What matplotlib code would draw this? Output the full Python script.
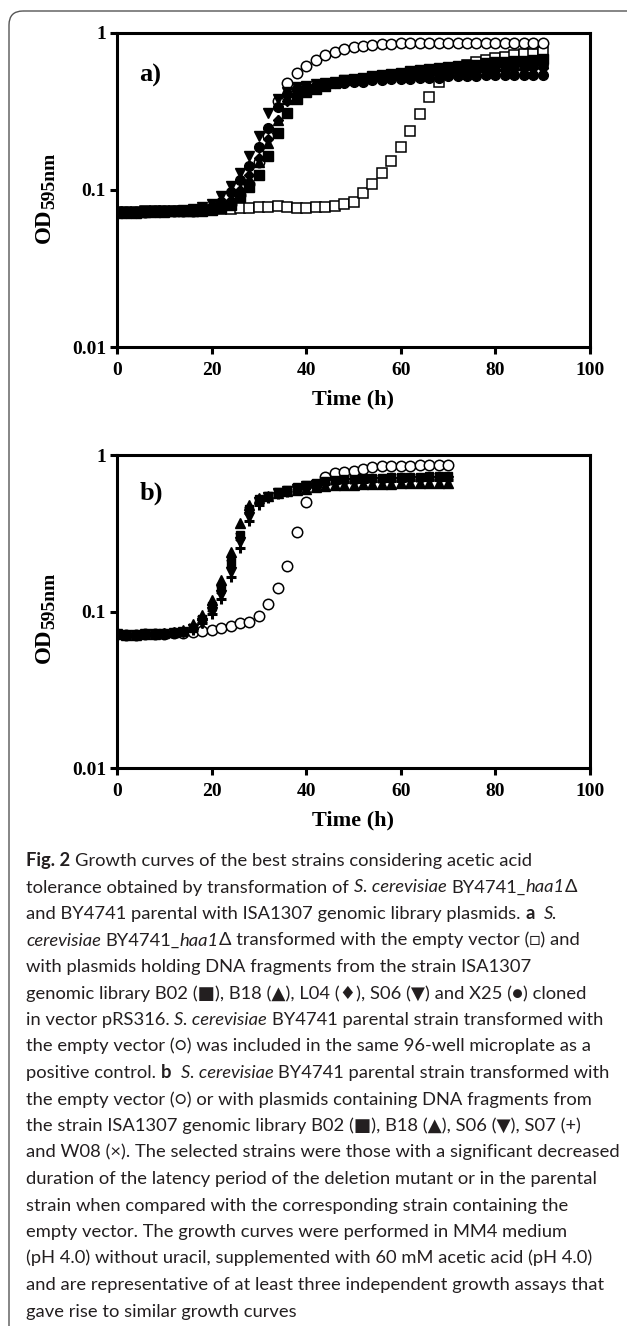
import matplotlib
matplotlib.use('Agg')
import matplotlib.pyplot as plt
from matplotlib.patches import FancyBboxPatch
from matplotlib.ticker import FixedLocator, FixedFormatter, NullLocator

plt.rcParams['font.family'] = 'Liberation Serif'

# ---- data: panel a (BY4741_haa1 deletion background), time in hours ----
hours_a = list(range(0, 92, 2))
a_empty_haa1 = [0.072, 0.072, 0.072, 0.073, 0.073, 0.073, 0.074, 0.074, 0.074, 0.075,
                0.075, 0.076, 0.076, 0.077, 0.077, 0.078, 0.078, 0.079, 0.078, 0.077,
                0.077, 0.078, 0.078, 0.079, 0.082, 0.084, 0.095, 0.109, 0.128, 0.153,
                0.188, 0.237, 0.305, 0.39, 0.49, 0.56, 0.60, 0.63, 0.65, 0.67,
                0.69, 0.70, 0.72, 0.73, 0.74, 0.76]
a_empty_parental = [0.072, 0.072, 0.072, 0.072, 0.073, 0.073, 0.073, 0.074, 0.074, 0.075,
                    0.076, 0.078, 0.081, 0.093, 0.109, 0.15, 0.22, 0.37, 0.48, 0.56,
                    0.62, 0.67, 0.72, 0.76, 0.79, 0.81, 0.83, 0.84, 0.85, 0.855,
                    0.86, 0.86, 0.86, 0.865, 0.865, 0.865, 0.865, 0.865, 0.865, 0.865,
                    0.865, 0.865, 0.865, 0.865, 0.86, 0.86]
a_b02 = [0.071, 0.071, 0.071, 0.072, 0.072, 0.072, 0.073, 0.073, 0.074, 0.074,
         0.075, 0.077, 0.080, 0.090, 0.105, 0.125, 0.165, 0.23, 0.31, 0.38,
         0.42, 0.44, 0.46, 0.48, 0.50, 0.51, 0.52, 0.53, 0.54, 0.55,
         0.56, 0.57, 0.58, 0.59, 0.60, 0.61, 0.62, 0.63, 0.63, 0.64,
         0.65, 0.65, 0.66, 0.66, 0.67, 0.68]
a_b18 = [0.072, 0.072, 0.072, 0.072, 0.073, 0.073, 0.073, 0.074, 0.074, 0.075,
         0.076, 0.079, 0.085, 0.098, 0.118, 0.15, 0.20, 0.28, 0.38, 0.44,
         0.46, 0.47, 0.48, 0.49, 0.50, 0.51, 0.52, 0.53, 0.54, 0.55,
         0.55, 0.56, 0.57, 0.58, 0.58, 0.59, 0.60, 0.60, 0.61, 0.61,
         0.62, 0.62, 0.63, 0.63, 0.64, 0.64]
a_l04 = [0.071, 0.071, 0.072, 0.072, 0.072, 0.073, 0.073, 0.074, 0.074, 0.075,
         0.076, 0.079, 0.086, 0.100, 0.125, 0.16, 0.21, 0.28, 0.37, 0.43,
         0.45, 0.46, 0.47, 0.48, 0.49, 0.50, 0.51, 0.52, 0.52, 0.53,
         0.54, 0.54, 0.55, 0.55, 0.56, 0.56, 0.57, 0.57, 0.58, 0.58,
         0.58, 0.59, 0.59, 0.59, 0.60, 0.60]
a_s06 = [0.072, 0.072, 0.072, 0.073, 0.073, 0.073, 0.074, 0.075, 0.076, 0.078,
         0.082, 0.092, 0.106, 0.128, 0.165, 0.22, 0.31, 0.38, 0.42, 0.45,
         0.46, 0.47, 0.48, 0.49, 0.50, 0.50, 0.51, 0.52, 0.52, 0.53,
         0.53, 0.54, 0.54, 0.55, 0.55, 0.55, 0.56, 0.56, 0.56, 0.57,
         0.57, 0.57, 0.57, 0.58, 0.58, 0.58]
a_x25 = [0.071, 0.071, 0.071, 0.072, 0.072, 0.073, 0.073, 0.074, 0.075, 0.076,
         0.078, 0.084, 0.097, 0.116, 0.142, 0.188, 0.25, 0.34, 0.41, 0.44,
         0.45, 0.46, 0.47, 0.48, 0.48, 0.49, 0.49, 0.50, 0.50, 0.51,
         0.51, 0.51, 0.52, 0.52, 0.52, 0.53, 0.53, 0.53, 0.53, 0.54,
         0.54, 0.54, 0.54, 0.54, 0.54, 0.54]

# ---- data: panel b (BY4741 parental background) ----
hours_b = list(range(0, 72, 2))
b_empty = [0.072, 0.071, 0.071, 0.072, 0.072, 0.072, 0.073, 0.073, 0.074, 0.075,
           0.076, 0.079, 0.081, 0.084, 0.086, 0.093, 0.111, 0.142, 0.196, 0.32,
           0.50, 0.64, 0.72, 0.77, 0.78, 0.79, 0.81, 0.84, 0.85, 0.85,
           0.855, 0.855, 0.86, 0.86, 0.86, 0.86]
b_b02 = [0.072, 0.071, 0.071, 0.072, 0.072, 0.072, 0.073, 0.074,
         0.079, 0.090, 0.108, 0.144, 0.208, 0.31, 0.45, 0.52, 0.55, 0.58, 0.60, 0.62,
         0.64, 0.66, 0.68, 0.69,
         0.70, 0.70, 0.71, 0.71, 0.71, 0.72, 0.72, 0.72, 0.72, 0.73, 0.73, 0.73]
b_b18 = [0.072, 0.071, 0.071, 0.072, 0.072, 0.073, 0.074, 0.076,
         0.083, 0.095, 0.118, 0.160, 0.240, 0.37, 0.48, 0.53, 0.55, 0.57, 0.59, 0.60,
         0.61, 0.62, 0.63, 0.64,
         0.64, 0.64, 0.65, 0.65, 0.65, 0.65, 0.66, 0.66, 0.66, 0.66, 0.66, 0.66]
b_s06 = [0.072, 0.071, 0.071, 0.072, 0.072, 0.072, 0.073, 0.074,
         0.077, 0.085, 0.100, 0.128, 0.180, 0.28, 0.40, 0.50, 0.54, 0.57, 0.59, 0.61,
         0.63, 0.64, 0.65, 0.66,
         0.66, 0.66, 0.67, 0.67, 0.67, 0.67, 0.67, 0.68, 0.68, 0.68, 0.68, 0.68]
b_s07 = [0.072, 0.071, 0.071, 0.072, 0.072, 0.072, 0.073, 0.074,
         0.076, 0.084, 0.097, 0.120, 0.165, 0.255, 0.38, 0.48, 0.53, 0.56, 0.58, 0.60,
         0.62, 0.64, 0.65, 0.66,
         0.67, 0.67, 0.67, 0.68, 0.68, 0.68, 0.68, 0.69, 0.69, 0.69, 0.69, 0.69]
b_w08 = [0.072, 0.071, 0.071, 0.072, 0.072, 0.072, 0.073, 0.074,
         0.078, 0.088, 0.105, 0.138, 0.200, 0.30, 0.44, 0.51, 0.54, 0.57, 0.59, 0.61,
         0.63, 0.65, 0.67, 0.68,
         0.69, 0.69, 0.70, 0.70, 0.70, 0.71, 0.71, 0.71, 0.71, 0.72, 0.72, 0.72]

y_ticks = [0.01, 0.1, 1]
y_ticklabels = ['0.01', '0.1', '1']
x_ticks = [0, 20, 40, 60, 80, 100]

caption_lines = [
    [('Fig. 2', 'b'), (' Growth curves of the best strains considering acetic acid', 'n')],
    [('tolerance obtained by transformation of ', 'n'), ('S. cerevisiae', 'i'),
     (' BY4741_', 'n'), ('haa1', 'i'), ('Δ', 'n')],
    [('and BY4741 parental with ISA1307 genomic library plasmids. ', 'n'), ('a', 'b'),
     (' ', 'n'), ('S.', 'i')],
    [('cerevisiae', 'i'), (' BY4741_', 'n'), ('haa1', 'i'),
     ('Δ transformed with the empty vector (□) and', 'n')],
    [('with plasmids holding DNA fragments from the strain ISA1307', 'n')],
    [('genomic library B02 (■), B18 (▲), L04 (♦), S06 (▼) and X25 (●) cloned', 'n')],
    [('in vector pRS316. ', 'n'), ('S. cerevisiae', 'i'),
     (' BY4741 parental strain transformed with', 'n')],
    [('the empty vector (○) was included in the same 96-well microplate as a', 'n')],
    [('positive control. ', 'n'), ('b', 'b'), (' ', 'n'), ('S. cerevisiae', 'i'),
     (' BY4741 parental strain transformed with', 'n')],
    [('the empty vector (○) or with plasmids containing DNA fragments from', 'n')],
    [('the strain ISA1307 genomic library B02 (■), B18 (▲), S06 (▼), S07 (+)', 'n')],
    [('and W08 (×). The selected strains were those with a significant decreased', 'n')],
    [('duration of the latency period of the deletion mutant or in the parental', 'n')],
    [('strain when compared with the corresponding strain containing the', 'n')],
    [('empty vector. The growth curves were performed in MM4 medium', 'n')],
    [('(pH 4.0) without uracil, supplemented with 60 mM acetic acid (pH 4.0)', 'n')],
    [('and are representative of at least three independent growth assays that', 'n')],
    [('gave rise to similar growth curves', 'n')],
]

W, H = 627, 1326
fig = plt.figure(figsize=(W / 100, H / 100), dpi=100)

# overlay in pixel coordinates for the frame, y labels and caption
ov = fig.add_axes([0, 0, 1, 1])
ov.set_xlim(0, W)
ov.set_ylim(H, 0)
ov.axis('off')
ov.add_patch(FancyBboxPatch((9, 11), 700, 1400,
                            boxstyle='round,pad=0,rounding_size=14',
                            fill=False, ec='#555555', lw=1.0))


def px_axes(left, top, right, bottom):
    return fig.add_axes([left / W, 1 - bottom / H, (right - left) / W, (bottom - top) / H])


def style_axes(ax):
    ax.set_yscale('log')
    ax.set_xlim(0, 100)
    ax.set_ylim(0.01, 1)
    ax.yaxis.set_major_locator(FixedLocator(y_ticks))
    ax.yaxis.set_major_formatter(FixedFormatter(y_ticklabels))
    ax.yaxis.set_minor_locator(NullLocator())
    ax.set_xticks(x_ticks)
    for sp in ax.spines.values():
        sp.set_linewidth(2.2)
    ax.tick_params(which='major', direction='out', length=5, width=2.2,
                   labelsize=14, pad=3)
    ax.tick_params(axis='x', pad=6)
    for lab in ax.get_xticklabels() + ax.get_yticklabels():
        lab.set_fontweight('bold')
    ax.set_xlabel('Time (h)', fontsize=16, fontweight='bold', labelpad=7)


def od_label(y_center):
    # "OD" with a large subscript, rotated, drawn in pixel coordinates
    ov.text(44, y_center + 45, 'OD', rotation=90, fontsize=16.5, fontweight='bold',
            ha='center', va='bottom')
    ov.text(50, y_center + 11, '595nm', rotation=90, fontsize=14, fontweight='bold',
            ha='center', va='bottom')


open_kw = dict(ls='none', mfc='white', mec='black', mew=1.1)
fill_kw = dict(ls='none', color='black')

# panel a
ax_a = px_axes(117, 33, 590, 347)
style_axes(ax_a)
ax_a.plot(hours_a, a_empty_haa1, marker='s', ms=6.5, **open_kw)
ax_a.plot(hours_a, a_empty_parental, marker='o', ms=7.5, **open_kw)
ax_a.plot(hours_a, a_x25, marker='o', ms=7, **fill_kw)
ax_a.plot(hours_a, a_s06, marker='v', ms=7, **fill_kw)
ax_a.plot(hours_a, a_l04, marker='D', ms=5.5, **fill_kw)
ax_a.plot(hours_a, a_b18, marker='^', ms=7, **fill_kw)
ax_a.plot(hours_a, a_b02, marker='s', ms=6.5, **fill_kw)
ax_a.text(0.047, 0.846, 'a)', transform=ax_a.transAxes, fontsize=19,
          fontweight='bold', ha='left', va='baseline')
od_label(198)

# panel b
ax_b = px_axes(117, 455, 590, 768)
style_axes(ax_b)
ax_b.plot(hours_b, b_empty, marker='o', ms=7.5, **open_kw)
ax_b.plot(hours_b, b_w08, marker='x', ms=5.5, mew=1.6, **fill_kw)
ax_b.plot(hours_b, b_s07, marker='+', ms=7.5, mew=2.2, **fill_kw)
ax_b.plot(hours_b, b_s06, marker='v', ms=6.5, **fill_kw)
ax_b.plot(hours_b, b_b02, marker='s', ms=6, **fill_kw)
ax_b.plot(hours_b, b_b18, marker='^', ms=6.5, **fill_kw)
ax_b.text(0.047, 0.859, 'b)', transform=ax_b.transAxes, fontsize=19,
          fontweight='bold', ha='left', va='baseline')
od_label(618)

# caption with mixed styles
CAP_FAMILY = ['Lato', 'DejaVu Sans']
CAP_SIZE = 13.2
cap_styles = {'n': {}, 'b': {'fontweight': 'bold'}, 'i': {'fontstyle': 'italic'}}
renderer = fig.canvas.get_renderer()


def text_width(s, st):
    t = ov.text(0, 0, s, fontsize=CAP_SIZE, family=CAP_FAMILY, **cap_styles[st])
    w = t.get_window_extent(renderer).width
    t.remove()
    return w


space_w = {st: text_width('n n', st) - text_width('nn', st) for st in cap_styles}

for i, segs in enumerate(caption_lines):
    y = 866 + 26.5 * i
    x = 26
    for s, st in segs:
        core = s.strip(' ')
        x += (len(s) - len(s.lstrip(' '))) * space_w[st]
        if core:
            t = ov.text(x, y, core, fontsize=CAP_SIZE, family=CAP_FAMILY,
                        color='#231f20', va='baseline', ha='left', **cap_styles[st])
            x += t.get_window_extent(renderer).width
        x += (len(s) - len(s.rstrip(' '))) * space_w[st]

fig.savefig('out.png', dpi=100)
